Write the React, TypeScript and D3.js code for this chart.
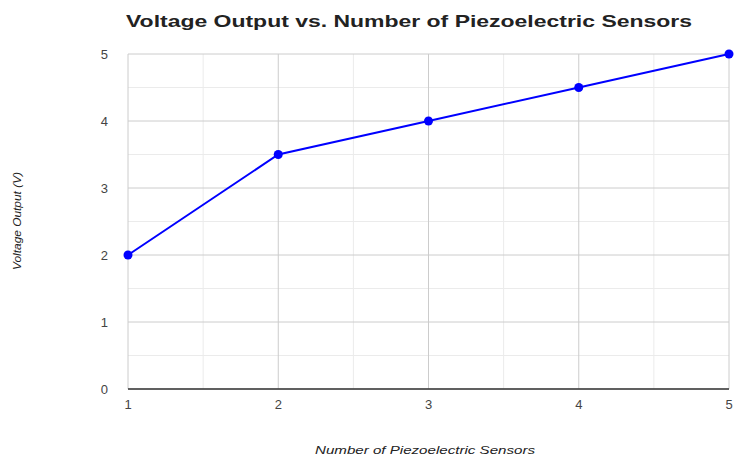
import React from "react";
import * as d3 from "d3";

const sensors = [1, 2, 3, 4, 5];
const voltage = [2, 3.5, 4, 4.5, 5];
const yTicks = [0, 1, 2, 3, 4, 5];

const W = 734;
const H = 457;
const M = { top: 54, right: 5, bottom: 68, left: 128 };

export default function App() {
  const x = d3.scaleLinear().domain([1, 5]).range([M.left, W - M.right]);
  const y = d3.scaleLinear().domain([0, 5]).range([H - M.bottom, M.top]);

  const line = d3
    .line<number>()
    .x((d, i) => x(sensors[i]))
    .y((d) => y(d));

  const minorX = d3.range(1.5, 5, 1);
  const minorY = d3.range(0.5, 5, 1);

  return (
    <svg
      width={W}
      height={H}
      style={{ position: "absolute", left: 0, top: 0, fontFamily: "Arial, 'Liberation Sans', sans-serif" }}
    >
      <rect width={W} height={H} fill="#fff" />
      <text
        x={409}
        y={27}
        textAnchor="middle"
        fontSize={17}
        fontWeight="bold"
        fill="#222"
        textLength={566}
        lengthAdjust="spacingAndGlyphs"
      >
        Voltage Output vs. Number of Piezoelectric Sensors
      </text>

      {minorY.map((v) => (
        <line key={"my" + v} x1={x(1)} x2={x(5)} y1={y(v)} y2={y(v)} stroke="#ebebeb" />
      ))}
      {minorX.map((v) => (
        <line key={"mx" + v} x1={x(v)} x2={x(v)} y1={y(0)} y2={y(5)} stroke="#ebebeb" />
      ))}
      {yTicks.map((v) => (
        <line key={"gy" + v} x1={x(1)} x2={x(5)} y1={y(v)} y2={y(v)} stroke="#ccc" />
      ))}
      {sensors.map((v) => (
        <line key={"gx" + v} x1={x(v)} x2={x(v)} y1={y(0)} y2={y(5)} stroke="#ccc" />
      ))}
      <line x1={x(1)} x2={x(5)} y1={y(0)} y2={y(0)} stroke="#333" strokeWidth={1.5} />

      {yTicks.map((v) => (
        <text key={"ty" + v} x={108} y={y(v)} dy="0.35em" textAnchor="end" fontSize={13} fill="#444">
          {v}
        </text>
      ))}
      {sensors.map((v) => (
        <text key={"tx" + v} x={x(v)} y={409} textAnchor="middle" fontSize={13} fill="#444">
          {v}
        </text>
      ))}

      <path d={line(voltage) ?? ""} fill="none" stroke="#0000ff" strokeWidth={2} />
      {voltage.map((v, i) => (
        <circle key={"p" + i} cx={x(sensors[i])} cy={y(v)} r={4.5} fill="#0000ff" />
      ))}

      <text
        x={425}
        y={454}
        textAnchor="middle"
        fontSize={11}
        fontStyle="italic"
        fill="#222"
        textLength={220}
        lengthAdjust="spacingAndGlyphs"
      >
        Number of Piezoelectric Sensors
      </text>
      <text
        transform={`translate(21,${221}) rotate(-90)`}
        textAnchor="middle"
        fontSize={10}
        fontStyle="italic"
        fill="#222"
        textLength={98}
        lengthAdjust="spacingAndGlyphs"
      >
        Voltage Output (V)
      </text>
    </svg>
  );
}
